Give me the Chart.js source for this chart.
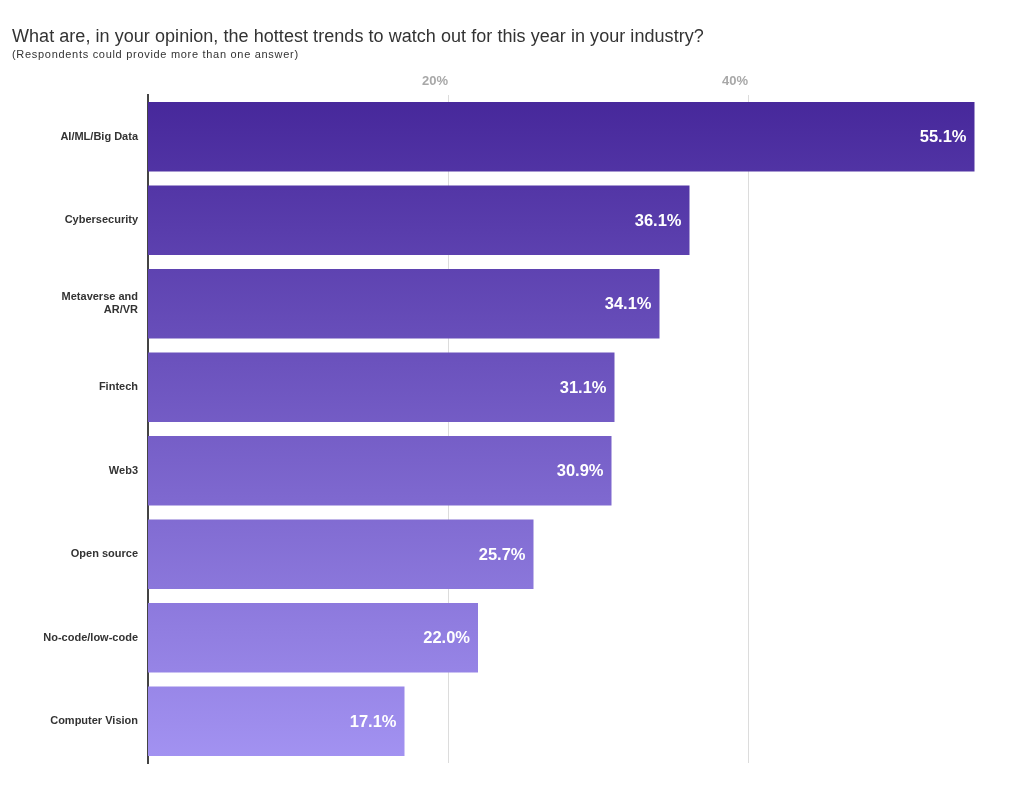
<!DOCTYPE html>
<html>
<head>
<meta charset="utf-8">
<script src="https://cdn.jsdelivr.net/npm/chart.js@4.4.0/dist/chart.umd.min.js"></script>
<style>
  html, body { margin: 0; padding: 0; background: #fff; }
  #wrap { position: relative; width: 1013px; height: 789px; }
  #title { position: absolute; left: 12px; top: 27px; line-height: 18px; font-family: "Liberation Sans", Arial, sans-serif; font-size: 18px; letter-spacing: 0.05px; color: #333; white-space: nowrap; }
  #subtitle { position: absolute; left: 12px; top: 48px; line-height: 12px; font-family: "Liberation Sans", Arial, sans-serif; font-size: 11px; letter-spacing: 0.7px; color: #333; white-space: nowrap; }
  canvas { position: absolute; left: 0; top: 0; }
</style>
</head>
<body>
<div id="wrap">
  <canvas id="chart" width="1013" height="789"></canvas>
  <div id="title">What are, in your opinion, the hottest trends to watch out for this year in your industry?</div>
  <div id="subtitle">(Respondents could provide more than one answer)</div>
</div>
<script>
const categories = ['AI/ML/Big Data', 'Cybersecurity', ['Metaverse and', 'AR/VR'], 'Fintech', 'Web3', 'Open source', 'No-code/low-code', 'Computer Vision'];
const shares = [55.1, 36.1, 34.1, 31.1, 30.9, 25.7, 22.0, 17.1];
const tickValues = [20, 40];

// continuous gradient over the whole plot, dark on top, light at the bottom
function barGradient(ctx) {
    const chart = ctx.chart;
    const area = chart.chartArea;
    if (!area) return '#6a50c0';
    const g = chart.ctx.createLinearGradient(0, area.top, 0, area.bottom);
    g.addColorStop(0, '#46279a');
    g.addColorStop(1, '#a393f2');
    return g;
}

// value labels inside the end of each bar
const valueLabels = {
    id: 'valueLabels',
    afterDatasetsDraw(chart) {
        const c = chart.ctx;
        const meta = chart.getDatasetMeta(0);
        c.save();
        c.font = 'bold 16.5px "Liberation Sans", Arial, sans-serif';
        c.fillStyle = '#ffffff';
        c.textAlign = 'right';
        c.textBaseline = 'middle';
        meta.data.forEach((bar, i) => {
            c.fillText(shares[i].toFixed(1) + '%', bar.x - 8, bar.y + 1);
        });
        c.restore();
    }
};

new Chart(document.getElementById('chart'), {
    type: 'bar',
    data: {
        labels: categories,
        datasets: [{
            data: shares,
            backgroundColor: barGradient,
            borderWidth: 0,
            barPercentage: 0.83,
            categoryPercentage: 1.0
        }]
    },
    options: {
        indexAxis: 'y',
        responsive: false,
        animation: false,
        layout: { padding: { top: 60, left: 0, right: 10, bottom: 26 } },
        plugins: {
            legend: { display: false },
            tooltip: { enabled: false }
        },
        scales: {
            x: {
                position: 'top',
                min: 0,
                max: 57,
                afterFit: scale => { scale.height = 35; },
                afterBuildTicks: scale => { scale.ticks = tickValues.map(v => ({ value: v })); },
                ticks: {
                    align: 'end',
                    padding: 6,
                    color: '#a8a8a8',
                    font: { family: '"Liberation Sans", Arial, sans-serif', size: 13, weight: 'bold' },
                    callback: v => v + '%'
                },
                grid: { color: '#dcdcdc', lineWidth: 1, drawTicks: false },
                border: { display: false }
            },
            y: {
                afterFit: scale => { scale.width = 148; },
                ticks: {
                    padding: 10,
                    color: '#333333',
                    font: { family: '"Liberation Sans", Arial, sans-serif', size: 11, weight: 'bold' }
                },
                grid: { display: false, drawTicks: false },
                border: { display: true, color: '#444444', width: 2 }
            }
        }
    },
    plugins: [valueLabels]
});
</script>
</body>
</html>
